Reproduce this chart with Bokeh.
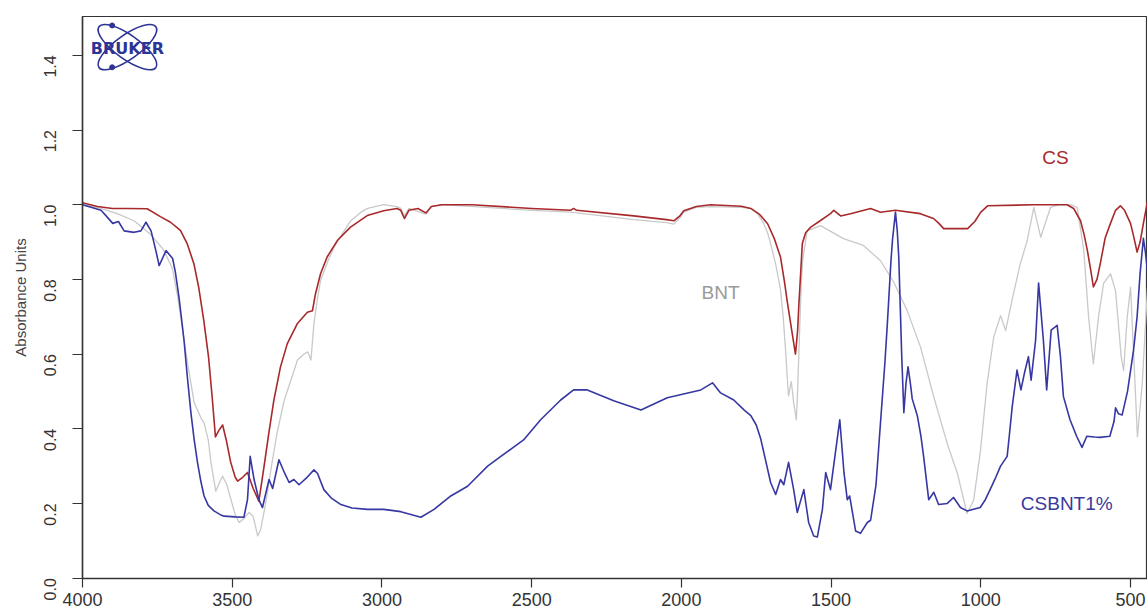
import math
from bokeh.plotting import figure
from bokeh.models import Range1d, FixedTicker, Label
from bokeh.embed import file_html
from bokeh.resources import INLINE

# ---------------- data ----------------
x_ticks = [4000, 3500, 3000, 2500, 2000, 1500, 1000, 500]
y_ticks = [0.0, 0.2, 0.4, 0.6, 0.8, 1.0, 1.2, 1.4]
y_tick_labels = ["0.0", "0.2", "0.4", "0.6", "0.8", "1.0", "1.2", "1.4"]
series_labels = ["CS", "BNT", "CSBNT1%"]

cs_wn = [4000, 3950, 3900, 3850, 3784, 3740, 3706, 3673, 3650, 3628,
         3612, 3595, 3579, 3567, 3556, 3545, 3532, 3520, 3505, 3490,
         3482, 3465, 3449, 3430, 3411, 3394, 3378, 3361, 3339, 3316,
         3283, 3249, 3232, 3222, 3205, 3183, 3149, 3105, 3049, 2994,
         2950, 2937, 2925, 2910, 2880, 2853, 2835, 2800, 2700, 2500,
         2370, 2360, 2350, 2159, 2050, 2025, 2005, 1992, 1950, 1902,
         1800, 1768, 1740, 1712, 1690, 1669, 1655, 1647, 1630, 1619,
         1612, 1608, 1600, 1596, 1585, 1568, 1540, 1502, 1491, 1468,
         1435, 1368, 1335, 1285, 1202, 1158, 1140, 1124, 1044, 1020,
         1000, 977, 824, 712, 690, 667, 655, 644, 632, 624,
         612, 601, 585, 567, 550, 534, 520, 500, 488, 478,
         468, 457, 443]
cs_abs = [1.005, 0.995, 0.99, 0.99, 0.989, 0.968, 0.953, 0.931, 0.895, 0.842,
          0.779, 0.69, 0.592, 0.485, 0.378, 0.395, 0.41, 0.37, 0.31, 0.27,
          0.26, 0.27, 0.283, 0.24, 0.206, 0.297, 0.387, 0.476, 0.565, 0.628,
          0.681, 0.712, 0.716, 0.761, 0.815, 0.86, 0.904, 0.94, 0.971, 0.984,
          0.99, 0.985, 0.963, 0.985, 0.99, 0.978, 0.995, 1.0, 1.0, 0.99,
          0.985, 0.99, 0.985, 0.97, 0.96, 0.957, 0.97, 0.984, 0.995, 1.0,
          0.996, 0.99, 0.975, 0.949, 0.91, 0.86, 0.79, 0.744, 0.656, 0.60,
          0.66, 0.726, 0.84, 0.896, 0.925, 0.94, 0.955, 0.976, 0.985, 0.97,
          0.976, 0.99, 0.98, 0.985, 0.976, 0.963, 0.95, 0.936, 0.936, 0.955,
          0.98, 0.997, 1.0, 1.0, 0.99, 0.957, 0.92, 0.877, 0.82, 0.78,
          0.80, 0.842, 0.91, 0.95, 0.985, 0.997, 0.985, 0.95, 0.91, 0.873,
          0.9, 0.95, 1.01]

bnt_wn = [4000, 3938, 3880, 3828, 3772, 3730, 3700, 3682, 3665, 3649,
          3627, 3605, 3594, 3580, 3571, 3555, 3540, 3532, 3518, 3504,
          3490, 3477, 3460, 3444, 3430, 3415, 3405, 3394, 3382, 3371,
          3350, 3326, 3300, 3282, 3260, 3248, 3237, 3227, 3215, 3205,
          3180, 3160, 3130, 3104, 3070, 3048, 2994, 2950, 2937, 2925,
          2910, 2853, 2835, 2800, 2500, 2370, 2160, 2050, 2025, 2005,
          1992, 1950, 1902, 1800, 1768, 1745, 1725, 1712, 1702, 1685,
          1669, 1660, 1652, 1645, 1642, 1637, 1633, 1629, 1625, 1616,
          1612, 1608, 1600, 1595, 1580, 1535, 1459, 1392, 1335, 1291,
          1246, 1201, 1157, 1112, 1078, 1046, 1024, 1001, 979, 957,
          934, 917, 891, 868, 845, 823, 800, 767, 740, 700,
          678, 656, 640, 624, 607, 590, 567, 550, 531, 523,
          511, 500, 490, 477, 461, 443]
bnt_abs = [1.0, 0.99, 0.975, 0.957, 0.92, 0.88, 0.83, 0.753, 0.66, 0.575,
           0.47, 0.43, 0.416, 0.37, 0.31, 0.233, 0.26, 0.273, 0.25, 0.21,
           0.17, 0.149, 0.16, 0.176, 0.165, 0.113, 0.13, 0.176, 0.23, 0.29,
           0.39, 0.477, 0.54, 0.584, 0.60, 0.606, 0.584, 0.683, 0.75, 0.797,
           0.85, 0.886, 0.925, 0.957, 0.98, 0.99, 1.0, 0.995, 0.99, 0.97,
           0.99, 0.975, 0.995, 1.0, 0.985, 0.98, 0.96, 0.952, 0.948, 0.965,
           0.98, 0.993, 0.995, 0.993, 0.99, 0.975, 0.95, 0.925, 0.896, 0.84,
           0.773, 0.70, 0.61, 0.52, 0.488, 0.51, 0.526, 0.50, 0.47, 0.424,
           0.50, 0.593, 0.78, 0.85, 0.93, 0.944, 0.909, 0.891, 0.85, 0.793,
           0.717, 0.618, 0.485, 0.36, 0.28, 0.173, 0.208, 0.342, 0.521, 0.645,
           0.703, 0.663, 0.762, 0.842, 0.904, 0.993, 0.913, 0.993, 1.0, 1.0,
           0.993, 0.877, 0.699, 0.574, 0.699, 0.789, 0.815, 0.77, 0.592, 0.556,
           0.699, 0.779, 0.61, 0.378, 0.52, 0.78]

csbnt_wn = [4000, 3938, 3910, 3899, 3880, 3861, 3828, 3805, 3788, 3771,
            3755, 3744, 3721, 3699, 3690, 3678, 3670, 3661, 3650, 3638,
            3627, 3616, 3605, 3594, 3580, 3561, 3540, 3527, 3490, 3461,
            3449, 3440, 3427, 3411, 3399, 3377, 3365, 3344, 3326, 3310,
            3294, 3277, 3250, 3227, 3215, 3194, 3170, 3137, 3100, 3048,
            2994, 2937, 2870, 2826, 2770, 2714, 2647, 2603, 2527, 2470,
            2403, 2360, 2314, 2226, 2135, 2047, 1935, 1896, 1869, 1825,
            1790, 1768, 1750, 1735, 1720, 1702, 1685, 1669, 1658, 1642,
            1625, 1613, 1591, 1575, 1558, 1546, 1529, 1518, 1502, 1471,
            1457, 1446, 1438, 1418, 1402, 1379, 1368, 1350, 1335, 1320,
            1312, 1300, 1295, 1285, 1279, 1274, 1264, 1257, 1250, 1243,
            1235, 1229, 1212, 1200, 1191, 1174, 1157, 1141, 1112, 1091,
            1068, 1046, 1002, 985, 969, 950, 934, 912, 905, 895,
            879, 866, 854, 841, 832, 817, 807, 791, 780, 765,
            745, 734, 724, 702, 680, 662, 646, 620, 602, 569,
            555, 550, 540, 528, 510, 490, 478, 468, 457, 450,
            443]
csbnt_abs = [1.0, 0.985, 0.96, 0.95, 0.955, 0.93, 0.926, 0.93, 0.953, 0.93,
             0.877, 0.837, 0.877, 0.856, 0.82, 0.753, 0.70, 0.637, 0.54, 0.443,
             0.37, 0.31, 0.26, 0.22, 0.195, 0.18, 0.17, 0.166, 0.164, 0.163,
             0.21, 0.326, 0.264, 0.21, 0.189, 0.264, 0.24, 0.317, 0.283, 0.256,
             0.264, 0.25, 0.27, 0.29, 0.28, 0.237, 0.215, 0.197, 0.188, 0.184,
             0.184, 0.178, 0.163, 0.184, 0.22, 0.246, 0.30, 0.326, 0.37, 0.424,
             0.477, 0.504, 0.504, 0.475, 0.45, 0.483, 0.504, 0.523, 0.496, 0.477,
             0.45, 0.435, 0.41, 0.373, 0.32, 0.256, 0.224, 0.264, 0.25, 0.31,
             0.237, 0.176, 0.237, 0.149, 0.113, 0.11, 0.184, 0.283, 0.237, 0.424,
             0.283, 0.21, 0.22, 0.126, 0.12, 0.149, 0.155, 0.25, 0.416, 0.58,
             0.683, 0.85, 0.905, 0.98, 0.93, 0.86, 0.593, 0.443, 0.52, 0.566,
             0.52, 0.48, 0.435, 0.38, 0.326, 0.21, 0.23, 0.197, 0.20, 0.216,
             0.189, 0.18, 0.189, 0.21, 0.237, 0.27, 0.30, 0.326, 0.38, 0.46,
             0.557, 0.504, 0.55, 0.593, 0.53, 0.637, 0.79, 0.637, 0.504, 0.664,
             0.677, 0.593, 0.486, 0.424, 0.38, 0.35, 0.38, 0.378, 0.377, 0.38,
             0.42, 0.456, 0.44, 0.437, 0.50, 0.61, 0.70, 0.816, 0.91, 0.87,
             0.82]

for a, b, n in [(cs_wn, cs_abs, "CS"), (bnt_wn, bnt_abs, "BNT"), (csbnt_wn, csbnt_abs, "CSBNT")]:
    if len(a) != len(b):
        raise ValueError(f"{n}: {len(a)} vs {len(b)}")

# ---------------- figure ----------------
FONT = "Liberation Sans"
RED = "#a8292b"
GRAY = "#c9c9c9"
BLUE = "#3737a3"

p = figure(width=1147, height=614, output_backend="svg", toolbar_location=None,
           x_range=Range1d(4000, 443.3), y_range=Range1d(-0.001, 1.504),
           min_border_left=82, min_border_right=0, min_border_top=16,
           min_border_bottom=36)
p.background_fill_color = "white"
p.border_fill_color = "white"
p.grid.visible = False
p.outline_line_color = "#333333"
p.outline_line_width = 1.2

for ax in (p.xaxis[0], p.yaxis[0]):
    ax.axis_line_color = "#333333"
    ax.axis_line_width = 1.5
    ax.major_tick_line_color = "#333333"
    ax.major_tick_line_width = 1.2
    ax.major_tick_in = 0
    ax.minor_tick_line_color = None
    ax.major_label_text_font = FONT
    ax.major_label_text_color = "#333333"

p.xaxis.ticker = FixedTicker(ticks=x_ticks)
p.xaxis.major_tick_out = 9
p.xaxis.major_label_standoff = 5
p.xaxis.major_label_text_font_size = "18px"

p.yaxis.ticker = FixedTicker(ticks=y_ticks)
p.yaxis.major_label_overrides = {t: s for t, s in zip(y_ticks, y_tick_labels)}
p.yaxis.major_tick_out = 10
p.yaxis.major_label_standoff = 22
p.yaxis.major_label_text_font_size = "16px"
p.yaxis.major_label_orientation = math.pi / 2
p.yaxis.axis_label = "Absorbance Units"
p.yaxis.axis_label_text_font = FONT
p.yaxis.axis_label_text_font_style = "normal"
p.yaxis.axis_label_text_font_size = "15px"
p.yaxis.axis_label_text_color = "#444444"
p.yaxis.axis_label_standoff = 7

# spectra
p.line(bnt_wn, bnt_abs, line_color=GRAY, line_width=1.3, line_join="round")
p.line(cs_wn, cs_abs, line_color=RED, line_width=1.6, line_join="round")
p.line(csbnt_wn, csbnt_abs, line_color=BLUE, line_width=1.6, line_join="round")

# series labels
label_pos = {"CS": (751, 1.126, RED), "BNT": (1869, 0.765, "#9a9a9a"),
             "CSBNT1%": (713, 0.200, "#3a3a9a")}
for name in series_labels:
    lx, ly, col = label_pos[name]
    p.add_layout(Label(x=lx, y=ly, text=name, text_font=FONT, text_font_size="19px",
                       text_color=col, text_align="center", text_baseline="middle"))

# Bruker logo (decorative)
LOGO = "#2d3494"
p.ellipse(x=[3850, 3850], y=[1.422, 1.422], width=[70, 70], height=[24, 24],
          angle=[0.62, -0.62], width_units="screen", height_units="screen",
          fill_color=None, line_color=LOGO, line_width=1.6)
p.scatter(x=[3901, 3901], y=[1.48, 1.368], size=5, color=LOGO)
p.add_layout(Label(x=3850, y=1.418, text="BRUKER", text_font="DejaVu Sans",
                   text_font_size="16px", text_font_style="bold",
                   text_color=LOGO, text_align="center", text_baseline="middle"))

open("out.html", "w").write(file_html(p, INLINE))
